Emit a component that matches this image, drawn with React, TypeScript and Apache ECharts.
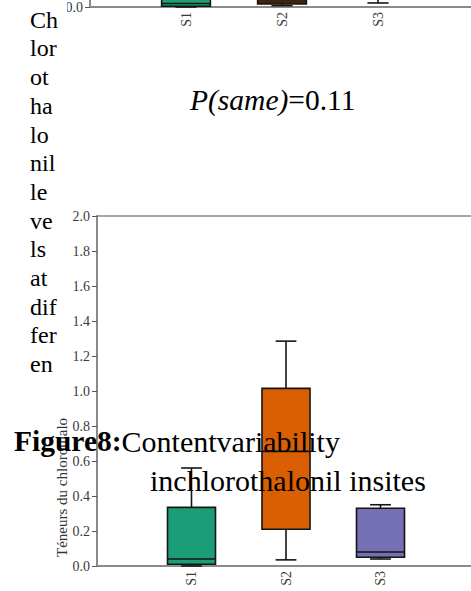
import React, { useEffect, useRef } from "react";
import * as echarts from "echarts";

// Sampling sites shown on both panels
const SITES = ["S1", "S2", "S3"];

// Five-number summaries [min, Q1, median, Q3, max] of chlorothalonil content (upper panel)
const UPPER_S1 = [0.0, 0.004, 0.02, 0.35, 0.6];
const UPPER_S2 = [0.008, 0.017, 0.5, 1.0, 1.3];
const UPPER_S3 = [0.023, 0.05, 0.1, 0.4, 0.45];

// Five-number summaries [min, Q1, median, Q3, max] (lower panel)
const LOWER_S1 = [0.0, 0.01, 0.04, 0.335, 0.56];
const LOWER_S2 = [0.035, 0.21, 0.655, 1.015, 1.285];
const LOWER_S3 = [0.04, 0.05, 0.08, 0.33, 0.35];

// Value axis ticks
const Y_MIN = 0;
const Y_MAX = 2;
const Y_STEP = 0.2;

const UPPER_FILLS = ["#1b9e77", "#43200f", "#7570b3"];
const LOWER_FILLS = ["#1b9e77", "#d95f02", "#7570b3"];

const SERIF = "'Liberation Serif', 'DejaVu Serif', serif";
const AXIS_GRAY = "#8a8a8a";
const INK = "#151515";

// Empty slots on both ends so the sites sit one step away from the value axis
const AXIS_CATS = ["", ...SITES, ""];

const toRows = (stats: number[][]) =>
  stats.map((s, i) => [i + 1, ...s]);

function boxRenderer(fills: string[]) {
  return (params: any, api: any) => {
    const idx = api.value(0);
    const at = (v: number) => api.coord([idx, v]);
    const [cx, yMin] = at(api.value(1));
    const yQ1 = at(api.value(2))[1];
    const yMed = at(api.value(3))[1];
    const yQ3 = at(api.value(4))[1];
    const yMax = at(api.value(5))[1];
    const band = api.size([1, 0])[0];
    const half = band * 0.254;
    const cap = band * 0.11;
    const ln = { stroke: INK, lineWidth: 1.6, fill: "none" };
    return {
      type: "group",
      children: [
        { type: "line", shape: { x1: cx, y1: yQ3, x2: cx, y2: yMax }, style: ln },
        { type: "line", shape: { x1: cx - cap, y1: yMax, x2: cx + cap, y2: yMax }, style: ln },
        { type: "line", shape: { x1: cx, y1: yQ1, x2: cx, y2: yMin }, style: ln },
        { type: "line", shape: { x1: cx - cap, y1: yMin, x2: cx + cap, y2: yMin }, style: ln },
        {
          type: "rect",
          shape: { x: cx - half, y: yQ3, width: half * 2, height: yQ1 - yQ3 },
          style: { fill: fills[params.dataIndex], stroke: INK, lineWidth: 1.6 },
        },
        { type: "line", shape: { x1: cx - half, y1: yMed, x2: cx + half, y2: yMed }, style: ln },
      ],
    };
  };
}

function categoryAxis(gridIndex: number) {
  return {
    type: "category",
    gridIndex,
    data: AXIS_CATS,
    boundaryGap: false,
    axisLine: { show: true, lineStyle: { color: AXIS_GRAY, width: 2 } },
    axisTick: { show: false },
    axisLabel: {
      rotate: 90,
      interval: 0,
      margin: 5,
      fontFamily: SERIF,
      fontSize: 14,
      color: "#3a3a3a",
    },
    splitLine: { show: false },
  };
}

function valueAxis(gridIndex: number) {
  return {
    type: "value",
    gridIndex,
    min: Y_MIN,
    max: Y_MAX,
    interval: Y_STEP,
    axisLine: { show: true, lineStyle: { color: AXIS_GRAY, width: 2 } },
    axisTick: { show: true, length: 5, lineStyle: { color: "#555", width: 1 } },
    axisLabel: {
      margin: 7,
      fontFamily: SERIF,
      fontSize: 14,
      color: "#3a3a3a",
      formatter: (v: number) => v.toFixed(1),
    },
    splitLine: { show: false },
  };
}

export default function App() {
  const ref = useRef<HTMLDivElement>(null);

  useEffect(() => {
    if (!ref.current) return;
    const chart = echarts.init(ref.current, null, { renderer: "svg" });

    const option: any = {
      animation: false,
      backgroundColor: "#ffffff",
      grid: [
        {
          left: 90,
          top: -343,
          width: 384,
          height: 350,
          outerBoundsMode: "none",
          containLabel: false,
          show: true,
          borderColor: AXIS_GRAY,
          borderWidth: 1.5,
        },
        {
          left: 97,
          top: 216,
          width: 378,
          height: 350,
          outerBoundsMode: "none",
          containLabel: false,
          show: true,
          borderColor: AXIS_GRAY,
          borderWidth: 1.5,
        },
      ],
      xAxis: [categoryAxis(0), categoryAxis(1)],
      yAxis: [valueAxis(0), valueAxis(1)],
      series: [
        {
          type: "custom",
          xAxisIndex: 0,
          yAxisIndex: 0,
          encode: { x: 0, y: [1, 2, 3, 4, 5] },
          data: toRows([UPPER_S1, UPPER_S2, UPPER_S3]),
          renderItem: boxRenderer(UPPER_FILLS),
        },
        {
          type: "custom",
          xAxisIndex: 1,
          yAxisIndex: 1,
          encode: { x: 0, y: [1, 2, 3, 4, 5] },
          data: toRows([LOWER_S1, LOWER_S2, LOWER_S3]),
          renderItem: boxRenderer(LOWER_FILLS),
        },
      ],
      graphic: [
        {
          type: "rect",
          z: 90,
          shape: { x: 0, y: 0, width: 67, height: 380 },
          style: { fill: "#ffffff" },
        },
        {
          type: "text",
          z: 100,
          x: 30,
          y: 5.4,
          style: {
            text: "Ch\nlor\not\nha\nlo\nnil\nle\nve\nls\nat\ndif\nfer\nen",
            font: "24px 'Liberation Serif', serif",
            fontFamily: SERIF,
            fontSize: 24,
            lineHeight: 28.7,
            fill: "#000",
            align: "left",
            verticalAlign: "top",
          },
        },
        {
          type: "text",
          z: 100,
          x: 190,
          y: 100,
          style: {
            text: "{i|P(same)}{n|=0.11}",
            rich: {
              i: { fontFamily: SERIF, fontSize: 29.5, fontStyle: "italic", fill: "#000" },
              n: { fontFamily: SERIF, fontSize: 29.5, fill: "#000" },
            },
            align: "left",
            verticalAlign: "middle",
          },
        },
        {
          type: "text",
          z: 100,
          x: 62,
          y: 557,
          rotation: Math.PI / 2,
          style: {
            text: "Téneurs du chlorothalo",
            fontFamily: SERIF,
            fontSize: 15,
            fill: "#333",
            align: "left",
            verticalAlign: "middle",
          },
        },
        {
          type: "text",
          z: 100,
          x: 14,
          y: 441,
          style: {
            text: "{b|Figure8:}{n|Contentvariability}",
            rich: {
              b: { fontFamily: SERIF, fontSize: 29.5, fontWeight: "bold", fill: "#000" },
              n: { fontFamily: SERIF, fontSize: 30, fill: "#000" },
            },
            align: "left",
            verticalAlign: "middle",
          },
        },
        {
          type: "text",
          z: 100,
          x: 150,
          y: 480,
          style: {
            text: "inchlorothalonil insites",
            fontFamily: SERIF,
            fontSize: 30,
            fill: "#000",
            align: "left",
            verticalAlign: "middle",
          },
        },
      ],
    };

    chart.setOption(option);
    return () => chart.dispose();
  }, []);

  return (
    <div
      ref={ref}
      style={{ position: "fixed", left: 0, top: 0, width: 471, height: 591 }}
    />
  );
}
